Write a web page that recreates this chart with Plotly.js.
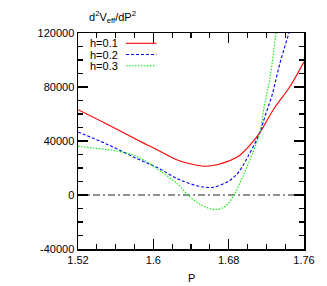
<!DOCTYPE html>
<html>
<head>
<meta charset="utf-8">
<script src="https://cdn.plot.ly/plotly-3.0.1.min.js"></script>
<style>html,body{margin:0;padding:0;background:#fff;}#chart{width:327px;height:286px;}</style>
</head>
<body>
<div id="chart"></div>
<script>
// ---- data ----
const seriesNames = ["h=0.1", "h=0.2", "h=0.3"];

const xH01 = [1.52, 1.5519, 1.5837, 1.605, 1.6262, 1.6474, 1.6549, 1.6687, 1.6899, 1.7058, 1.713, 1.7274, 1.7451, 1.76];
const yH01 = [63200, 52100, 40600, 33200, 25800, 21900, 21300, 22600, 28500, 39600, 46000, 63200, 80400, 98700];

const xH02 = [1.52, 1.5519, 1.5837, 1.605, 1.6262, 1.6474, 1.6549, 1.6634, 1.6793, 1.6899, 1.7005, 1.713, 1.7186, 1.7257, 1.7345, 1.7441, 1.7504];
const yH02 = [46700, 37300, 26600, 20100, 11800, 6650, 5800, 5700, 9980, 16400, 28500, 46000, 58300, 73100, 97700, 120200, 135000];

const xH03 = [1.52, 1.5359, 1.5519, 1.5625, 1.5731, 1.5837, 1.605, 1.6262, 1.6368, 1.6474, 1.658, 1.6671, 1.6761, 1.6857, 1.692, 1.7005, 1.713, 1.7175, 1.7239, 1.7303, 1.7345];
const yH03 = [36200, 34800, 33600, 32400, 30800, 28200, 18900, 7800, 0, -5800, -9600, -10700, -8500, 0, 9200, 22500, 46000, 64700, 86900, 120200, 140900];

const xRefLine = [1.52, 1.76];
const yRefLine = [0, 0];

const xTickVals = [1.52, 1.6, 1.68, 1.76];
const xTickText = ["1.52", "1.6", "1.68", "1.76"];
const yTickVals = [-40000, 0, 40000, 80000, 120000];
const yTickText = ["-40000", "0", "40000", "80000", "120000"];

// ---- styles ----
const colors = ["#ff0000", "#0000ff", "#00ee00"];
const dashes = ["solid", "3px,2px", "1.5px,1.5px"];
const FONT = "Liberation Sans, Arial, sans-serif";

const seriesX = [xH01, xH02, xH03];
const seriesY = [yH01, yH02, yH03];

const traces = [{
  x: xRefLine, y: yRefLine, mode: "lines", showlegend: false, hoverinfo: "skip",
  line: {color: "#222", width: 1, dash: "7px,3px,2px,3px"}
}];
for (let i = 0; i < 3; i++) {
  traces.push({
    x: seriesX[i], y: seriesY[i], name: seriesNames[i], mode: "lines",
    line: {color: colors[i], width: 1.1, dash: dashes[i], shape: "spline", smoothing: 1},
    showlegend: false
  });
}

const W = 327, H = 286, L = 78, R = 23, T = 33, B = 37;
const pw = W - L - R, ph = H - T - B;
const px = v => (v - L) / pw;
const py = v => (H - B - v) / ph;

const annotations = [
  {text: "d<sup>2</sup>V<sub>eff</sub>/dP<sup>2</sup>", xref: "paper", yref: "paper",
   x: px(87), y: py(17), xanchor: "left", yanchor: "middle", showarrow: false,
   font: {family: FONT, size: 11, color: "#000"}},
  {text: "P", xref: "paper", yref: "paper",
   x: 0.5, y: py(278), xanchor: "center", yanchor: "middle", showarrow: false,
   font: {family: FONT, size: 11, color: "#000"}}
];
const shapes = [];
const rowsY = [43.3, 54.5, 65.8];
for (let i = 0; i < 3; i++) {
  annotations.push({text: seriesNames[i], xref: "paper", yref: "paper",
    x: px(120), y: py(rowsY[i]), xanchor: "right", yanchor: "middle", showarrow: false,
    font: {family: FONT, size: 11, color: "#000"}});
  shapes.push({type: "line", xref: "paper", yref: "paper",
    x0: px(126), x1: px(156.5), y0: py(rowsY[i]), y1: py(rowsY[i]),
    line: {color: colors[i], width: 1.1, dash: dashes[i]}});
}

const axisCommon = {
  showgrid: false, zeroline: false, showline: true, linecolor: "#000", linewidth: 1.5,
  mirror: "allticks", ticks: "inside", ticklen: 10, tickwidth: 1.2, tickcolor: "#000",
  tickfont: {family: FONT, size: 11, color: "#000"}
};

const layout = {
  width: W, height: H,
  margin: {l: L, r: R, t: T, b: B},
  paper_bgcolor: "#fff", plot_bgcolor: "#fff",
  showlegend: false,
  xaxis: Object.assign({}, axisCommon, {
    range: [1.52, 1.76], tickvals: xTickVals, ticktext: xTickText,
    minor: {dtick: 0.02, tick0: 1.52, ticks: "inside", ticklen: 5, tickwidth: 1.2, tickcolor: "#000"}
  }),
  yaxis: Object.assign({}, axisCommon, {
    range: [-40000, 120000], tickvals: yTickVals, ticktext: yTickText,
    minor: {dtick: 10000, tick0: 0, ticks: "inside", ticklen: 5, tickwidth: 1.2, tickcolor: "#000"}
  }),
  annotations: annotations,
  shapes: shapes
};

Plotly.newPlot("chart", traces, layout, {displayModeBar: false, staticPlot: true});
</script>
</body>
</html>
